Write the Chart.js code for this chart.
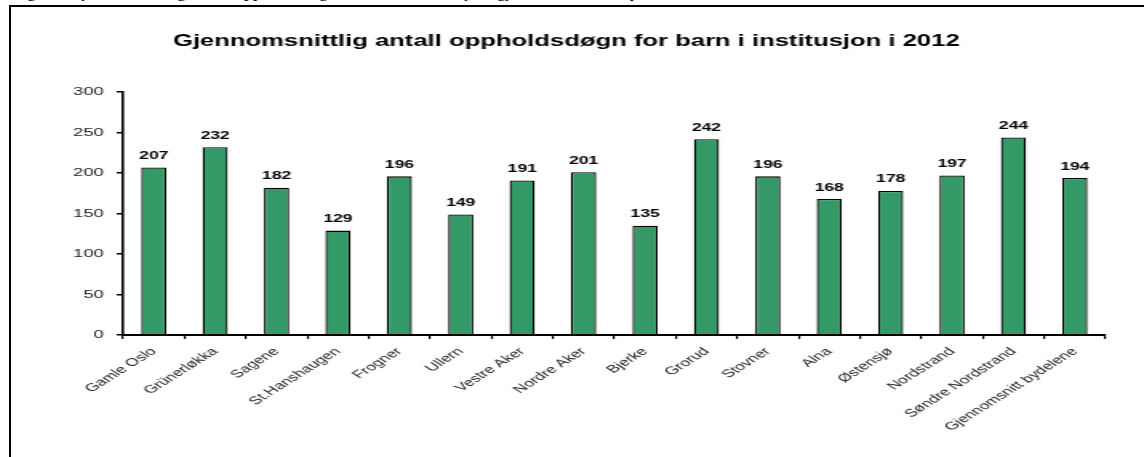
<!DOCTYPE html>
<html>
<head>
<meta charset="utf-8">
<script src="https://cdn.jsdelivr.net/npm/chart.js@4"></script>
<style>
  body { margin: 0; background: #fff; overflow: hidden; width: 1144px; height: 457px; position: relative; }
  .caption {
    position: absolute; left: 12px; top: -18px;
    font: 18px/18px "Liberation Serif", "Times New Roman", serif;
    color: #000; white-space: nowrap;
  }
  .frame {
    position: absolute; left: 9px; top: 5px; width: 1135px; height: 452px;
    border-top: 2px solid #000; border-left: 2px solid #000;
    background: #fff;
  }
  #chart { display: block; }
</style>
</head>
<body>
<div class="caption">Figur 6 Gjennomsnittlig antall oppholdsdøgn for barn i institusjon, gjennomsnitt for bydelene i 2012</div>
<div class="frame">
  <!-- drawn narrow, then stretched sideways like the original picture -->
  <canvas id="chart" width="708" height="450" style="width:1133px;height:450px"></canvas>
</div>
<script>
const categories = ['Gamle Oslo', 'Grünerløkka', 'Sagene', 'St.Hanshaugen', 'Frogner', 'Ullern',
    'Vestre Aker', 'Nordre Aker', 'Bjerke', 'Grorud', 'Stovner', 'Alna', 'Østensjø',
    'Nordstrand', 'Søndre Nordstrand', 'Gjennomsnitt bydelene'];
const values = [207, 232, 182, 129, 196, 149, 191, 201, 135, 242, 196, 168, 178, 197, 244, 194];
const yTicks = [0, 50, 100, 150, 200, 250, 300];
const chartTitle = 'Gjennomsnittlig antall oppholdsdøgn for barn i institusjon i 2012';

const FONT = '"Liberation Sans", Arial, sans-serif';

// value labels above each bar
const valueLabels = {
    id: 'valueLabels',
    afterDatasetsDraw(chart) {
        const ctx = chart.ctx;
        const meta = chart.getDatasetMeta(0);
        ctx.save();
        ctx.font = 'bold 11px ' + FONT;
        ctx.fillStyle = '#000';
        ctx.textAlign = 'center';
        ctx.textBaseline = 'bottom';
        meta.data.forEach((bar, i) => {
            ctx.fillText(values[i], bar.x, bar.y - 6);
        });
        ctx.restore();
    }
};

new Chart(document.getElementById('chart'), {
    type: 'bar',
    data: {
        labels: categories,
        datasets: [{
            data: values,
            backgroundColor: '#339966',
            borderColor: '#000',
            borderWidth: 1.3,
            barPercentage: 0.41,
            categoryPercentage: 1
        }]
    },
    options: {
        responsive: false,
        devicePixelRatio: 1,
        animation: false,
        layout: { padding: { left: 10, right: 24, top: 0, bottom: 0 } },
        plugins: {
            legend: { display: false },
            tooltip: { enabled: false },
            title: {
                display: true,
                text: chartTitle,
                color: '#000',
                font: { family: FONT, size: 16, weight: 'bold', lineHeight: 1.2 },
                padding: { top: 25, bottom: 41 }
            }
        },
        scales: {
            x: {
                grid: { display: true, drawOnChartArea: false, drawTicks: true, tickLength: 4, color: '#000', lineWidth: 1.2 },
                border: { display: true, color: '#000', width: 2 },
                ticks: {
                    autoSkip: false,
                    minRotation: 45,
                    maxRotation: 45,
                    padding: 6,
                    color: '#222',
                    font: { family: FONT, size: 11 }
                },
                afterFit(scale) { scale.height = 122; }
            },
            y: {
                min: 0,
                max: 300,
                afterBuildTicks(scale) { scale.ticks = yTicks.map(v => ({ value: v })); },
                grid: { display: true, drawOnChartArea: false, drawTicks: true, tickLength: 4, color: '#000', lineWidth: 1.5 },
                border: { display: true, color: '#000', width: 1.6 },
                ticks: {
                    padding: 8,
                    color: '#222',
                    font: { family: FONT, size: 11.5 }
                },
                afterFit(scale) { scale.width = 60; }
            }
        }
    },
    plugins: [valueLabels]
});
</script>
</body>
</html>
